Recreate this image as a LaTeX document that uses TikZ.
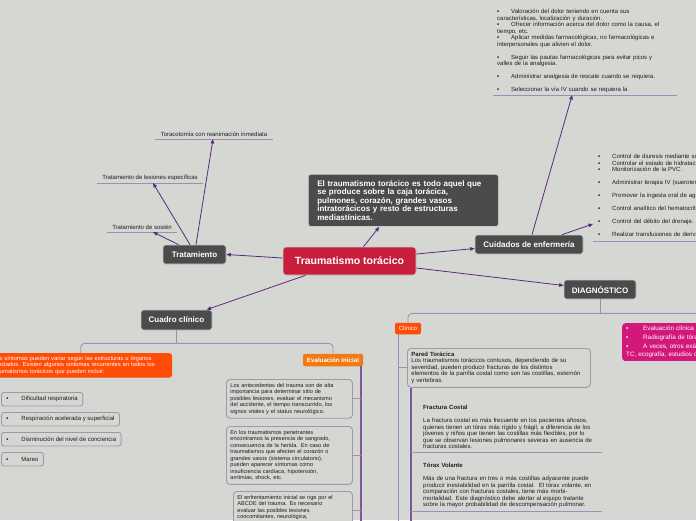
\documentclass[tikz,border=0pt]{standalone}
\usepackage{fontspec}
\setmainfont{Liberation Sans}
\usetikzlibrary{arrows.meta}
\definecolor{bgc}{HTML}{D5D7D3}
\definecolor{darkc}{HTML}{4B4B4B}
\definecolor{redc}{HTML}{C71F3B}
\definecolor{flamec}{HTML}{FF4C06}
\definecolor{orangec}{HTML}{F27A13}
\definecolor{pinkc}{HTML}{D2187A}
\definecolor{arrowc}{HTML}{5B2A82}
\definecolor{treec}{HTML}{A08CB5}
\definecolor{stemc}{HTML}{7B589C}
\definecolor{boxc}{HTML}{A296AE}
\definecolor{inkc}{HTML}{1E1E1E}
\newcommand{\itm}[1][14pt]{\makebox[#1][l]{▪}}

\tikzset{
  topic/.style={fill=darkc, draw=white!70!darkc, line width=0.7pt, rounded corners=2.5pt,
    text=white, font=\fontsize{8}{9}\selectfont\bfseries, inner sep=0pt},
  tagtext/.style={anchor=south, inner xsep=0pt, inner ysep=2.5pt, text=inkc,
    font=\fontsize{6}{7}\selectfont},
  uline/.style={treec, line width=0.9pt},
  link/.style={arrowc, line width=0.8pt, -{Triangle[length=4.5pt,width=3.6pt]}},
  branch/.style={treec, line width=0.8pt, rounded corners=4pt},
  stem/.style={stemc, line width=1.3pt},
  card/.style={anchor=north west, draw=boxc, line width=0.9pt, fill=bgc, rounded corners=3.5pt,
    align=left, text=inkc, inner xsep=4pt, inner ysep=3.8pt, font=\fontsize{5.6}{6.5}\selectfont},
  chip/.style={anchor=north west, draw=boxc, line width=0.9pt, fill=bgc, rounded corners=2.5pt,
    text=inkc, inner xsep=5pt, minimum height=13.5pt, font=\fontsize{6}{7}\selectfont},
  notes/.style={align=left, text=inkc, font=\fontsize{6}{6.5}\selectfont},
  flag/.style={fill=#1, rounded corners=2pt, text=white, inner sep=0pt}
}

\begin{document}
\begin{tikzpicture}[x=1pt, y=-1pt]
\useasboundingbox (0,0) rectangle (696,520);
\clip (0,0) rectangle (696,520);
\fill[bgc] (0,0) rectangle (696,520);

% main topics
\node[topic, fill=redc, minimum width=133pt, minimum height=28pt, rounded corners=3pt,
  font=\fontsize{10.5}{12}\selectfont\bfseries] (trauma) at (349.5,261) {Traumatismo torácico};
\node[topic, anchor=north west, align=left, text width=172pt, inner xsep=9pt, inner ysep=6.3pt,
  font=\fontsize{8}{8.4}\selectfont\bfseries] (defin) at (308,174)
  {El traumatismo torácico es todo aquel que\\ se produce sobre la caja torácica,\\
   pulmones, corazón, grandes vasos\\ intratorácicos y resto de estructuras\\ mediastínicas.};
\node[topic, minimum width=63pt, minimum height=19pt] (trat) at (194.5,254.5) {Tratamiento};
\node[topic, minimum width=108pt, minimum height=19pt] (cuid) at (529,244.5) {Cuidados de enfermería};
\node[topic, minimum width=72pt, minimum height=19pt] (diag) at (600,289.5) {DIAGNÓSTICO};
\node[topic, minimum width=71pt, minimum height=20pt] (cuadro) at (176.5,320) {Cuadro clínico};

\draw[link] ([xshift=14pt]trauma.north) -- ([xshift=-24pt]defin.south);
\draw[link] ([yshift=3pt]trauma.west) -- (trat.east);
\draw[link] ([yshift=7pt]trauma.east) -- ([yshift=-4pt]cuid.west);
\draw[link] ([yshift=-7pt]trauma.east) -- ([yshift=4pt]diag.west);
\draw[link] ([xshift=-44pt]trauma.south) -- ([xshift=30pt]cuadro.north);

% tratamiento
\node[tagtext, minimum width=118pt] (toraco) at (214,139) {Toracotomía con reanimación inmediata};
\node[tagtext, minimum width=106pt] (lesion) at (150,183) {Tratamiento de lesiones específicas};
\node[tagtext, minimum width=70pt] (sosten) at (142,232) {Tratamiento de sostén};
\foreach \t in {toraco,lesion,sosten}
  \draw[uline] (\t.south west) -- (\t.south east);
\draw[link] ([xshift=-16pt]trat.north) -- ([xshift=11pt]sosten.south);
\draw[link] ([xshift=-4.5pt]trat.north) -- ([xshift=3pt]lesion.south);
\draw[link] ([xshift=1.5pt]trat.north) -- ([xshift=-1pt]toraco.south);

% cuidados de enfermeria
\node[notes, anchor=south west, text width=190pt, inner xsep=4pt, inner ysep=2pt] (care1) at (493,95)
  {\itm Valoración del dolor teniendo en cuenta sus\\
   características, localización y duración.\\
   \itm Ofrecer información acerca del dolor como la causa, el\\
   tiempo, etc.\\
   \itm Aplicar medidas farmacológicas, no farmacológicas e\\
   interpersonales que alivien el dolor.\\[6.5pt]
   \itm Seguir las pautas farmacológicas para evitar picos y\\
   valles de la analgesia.\\[6.5pt]
   \itm Administrar analgesia de rescate cuando se requiera.\\[6.5pt]
   \itm Seleccionar la vía IV cuando se requiera la};
\node[notes, anchor=south west, text width=200pt, inner xsep=5pt, inner ysep=3pt] (care2) at (593,241)
  {\itm Control de diuresis mediante sondaje vesical.\\
   \itm Controlar el estado de hidratación.\\
   \itm Monitorización de la PVC.\\[6.5pt]
   \itm Administrar terapia IV (sueroterapia).\\[6.5pt]
   \itm Promover la ingesta oral de agua.\\[6.5pt]
   \itm Control analítico del hematocrito.\\[6.5pt]
   \itm Control del débito del drenaje.\\[6.5pt]
   \itm Realizar transfusiones de derivados sanguíneos.};
\draw[uline] (care1.south west) -- ([xshift=-14pt]care1.south east);
\draw[uline] (care2.south west) -- (care2.south east);
\draw[link] ([xshift=3pt]cuid.north) -- ([xshift=-20pt]care1.south);
\draw[link] ([xshift=33pt]cuid.north) -- ([yshift=17pt]care2.south west);

% diagnostico
\node[flag=flamec, minimum width=26pt, minimum height=11.5pt, font=\fontsize{6}{7}\selectfont]
  (clin) at (408,328.5) {Clínico};
\node[flag=pinkc, anchor=north west, align=left, text width=180pt, inner xsep=4pt, inner ysep=3pt,
  rounded corners=3pt, font=\fontsize{6.3}{8.6}\selectfont] (exams) at (622,323)
  {\itm[17pt]Evaluación clínica\\
   \itm[17pt]Radiografía de tórax\\
   \itm[17pt]A veces, otros exámenes complementarios como\\
   TC, ecografía, estudios de laboratorio.};
\node[card, text width=175pt, inner ysep=3.6pt, font=\fontsize{6}{6.5}\selectfont] (pared) at (407,348)
  {\textbf{Pared Torácica}\\
   Los traumatismos torácicos contusos, dependiendo de su\\
   severidad, pueden producir fracturas de los distintos\\
   elementos de la parrilla costal como son las costillas, esternón\\
   y vertebras.};
\node[notes, anchor=south west, text width=185pt, inner xsep=12pt, inner ysep=3pt] (costal) at (411,452)
  {\textbf{Fractura Costal}\\[6.5pt]
   La fractura costal es más frecuente en los pacientes añosos,\\
   quienes tienen un tórax más rígido y frágil, a diferencia de los\\
   jóvenes y niños que tienen las costillas más flexibles, por lo\\
   que se observan lesiones pulmonares severas en ausencia de\\
   fracturas costales.};
\node[notes, anchor=south west, text width=185pt, inner xsep=12pt, inner ysep=3pt] (volante) at (411,511)
  {\textbf{Tórax Volante}\\[6.5pt]
   Más de una fractura en tres o más costillas adyacente puede\\
   producir inestabilidad en la parrilla costal.\ \ El tórax volante, en\\
   comparación con fracturas costales, tiene más morbi-\\
   mortalidad. Este diagnóstico debe alertar al equipo tratante\\
   sobre la mayor probabilidad de descompensación pulmonar.};

\draw[branch] (diag.south) -- ++(0,14) coordinate (djoin);
\draw[branch] (djoin) -| (clin.north);
\draw[branch] (djoin) -| (exams.north);
\draw[branch] ([xshift=-10pt]clin.south) coordinate (ctop) -- ++(0,200);
\draw[branch] (pared.west) -- (pared.west -| ctop);
\draw[stem] ([xshift=4pt]pared.south west) -- ++(0,150);
\foreach \t in {costal,volante}
  \draw[uline] (\t.south west) -- ([xshift=-18pt]\t.south east);

% cuadro clinico
\node[flag=flamec, anchor=north west, align=left, text width=175pt, inner xsep=4pt, inner ysep=3pt,
  rounded corners=3pt, font=\fontsize{5.8}{6.5}\selectfont] (sintomas) at (-11,353)
  {Los síntomas pueden variar según las estructuras u órganos\\
   afectados. Existen algunos síntomas recurrentes en todos los\\
   traumatismos torácicos que pueden incluir:};
\node[flag=orangec, minimum width=60pt, minimum height=12.5pt, font=\fontsize{6.2}{7}\selectfont\bfseries]
  (evalini) at (333,360) {Evaluación inicial};
\draw[branch] (cuadro.south) -- ++(0,13) coordinate (cjoin);
\draw[branch] (cjoin) -| (sintomas.north);
\draw[branch] (cjoin) -| (evalini.north);

\foreach \n/\y/\t in {1/392/Dificultad respiratoria, 2/412/Respiración acelerada y superficial,
    3/432/Disminución del nivel de conciencia, 4/452/Mareo}
  \node[chip] (sign\n) at (1,\y) {\itm[15pt]\t};

\node[card, text width=118pt] (ante) at (226,379)
  {Los antecedentes del trauma son de alta\\
   importancia para determinar sitio de\\
   posibles lesiones, evaluar el mecanismo\\
   del accidente, el tiempo transcurrido, los\\
   signos vitales y el status neurológico.};
\node[card, text width=118pt] (pene) at (226,426)
  {En los traumatismos penetrantes\\
   encontramos la presencia de sangrado,\\
   consecuencia de la herida. En caso de\\
   traumatismos que afecten el corazón o\\
   grandes vasos (sistema circulatorio),\\
   pueden aparecer síntomas como\\
   insuficiencia cardíaca, hipotensión,\\
   arritmias, shock, etc.};
\node[card, text width=111pt] (enfr) at (233,491)
  {El enfrentamiento inicial se rige por el\\
   ABCDE del trauma. Es necesario\\
   evaluar las posibles lesiones\\
   concomitantes, neurológica,\\ \mbox{}};
\draw[stem] ([xshift=28pt]evalini.south) coordinate (etop) -- ++(0,170);
\foreach \c in {ante,pene,enfr}
  \draw[branch] (\c.east) -- (\c.east -| etop);
\end{tikzpicture}
\end{document}
